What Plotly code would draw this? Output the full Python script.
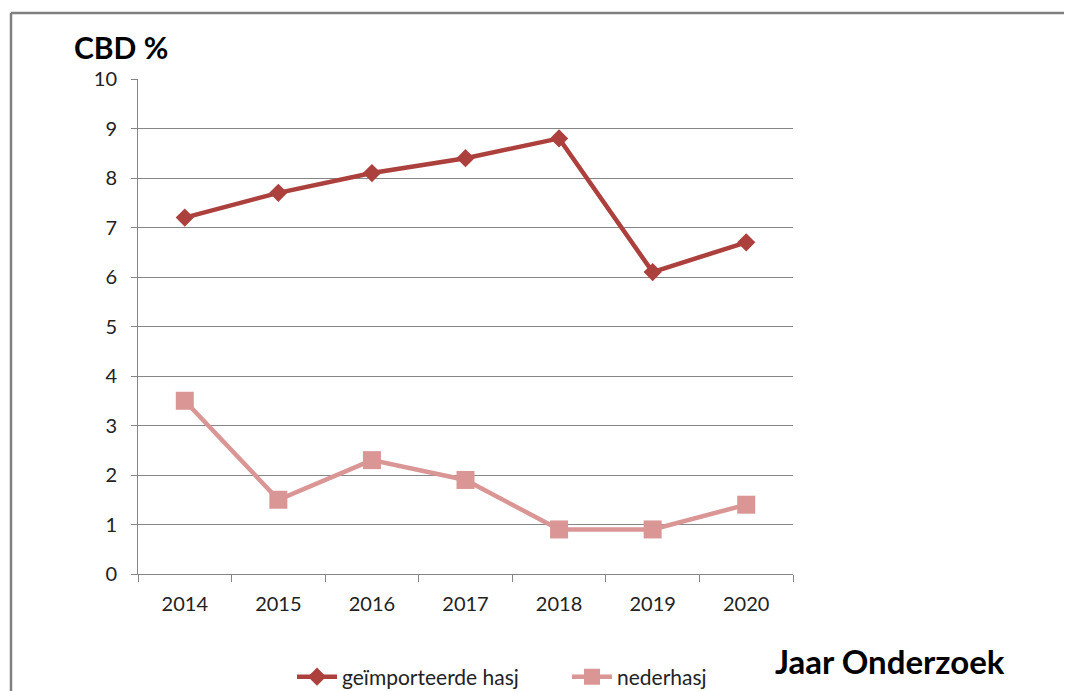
import plotly.graph_objects as go

years = ["2014", "2015", "2016", "2017", "2018", "2019", "2020"]
geimporteerde = [7.2, 7.7, 8.1, 8.4, 8.8, 6.1, 6.7]
nederhasj = [3.5, 1.5, 2.3, 1.9, 0.9, 0.9, 1.4]
y_ticks = list(range(0, 11))

OFF = 8  # page body margin
W, H = 1072 - OFF, 691 - OFF
L, R, T, B = 138 - OFF, 793 - OFF, 79 - OFF, 574 - OFF
pw, ph = R - L, B - T

def px_x(p):
    return (p - OFF - L) / pw

def px_y(p):
    return (B - (p - OFF)) / ph

fig = go.Figure()
fig.add_trace(go.Scatter(
    x=years, y=geimporteerde, name="geïmporteerde hasj", mode="lines+markers",
    line=dict(color="#AC403D", width=4.5),
    marker=dict(symbol="diamond", size=14, color="#AC403D"),
))
fig.add_trace(go.Scatter(
    x=years, y=nederhasj, name="nederhasj", mode="lines+markers",
    line=dict(color="#D99694", width=4.5),
    marker=dict(symbol="square", size=18, color="#D99694"),
))

font_family = "Lato, 'Liberation Sans', sans-serif"
border = dict(color="#808080", width=2.5)

fig.update_layout(
    width=W, height=H,
    margin=dict(l=L, r=W - R, t=T, b=H - B, autoexpand=False),
    paper_bgcolor="white", plot_bgcolor="white",
    font=dict(family=font_family, size=20, color="#222222"),
    showlegend=True,
    legend=dict(orientation="h", x=px_x(292), y=px_y(677), xanchor="left", yanchor="middle",
                font=dict(size=21, color="#222222"), itemwidth=40, bgcolor="rgba(0,0,0,0)",
                entrywidth=220, traceorder="normal"),
    xaxis=dict(type="category", range=[-0.5, 6.5], showgrid=False, showline=True,
               linecolor="#868686", linewidth=1, ticks="outside", tickson="boundaries",
               ticklen=7, tickcolor="#868686", tickfont=dict(size=20), zeroline=False,
               ticklabelstandoff=12, fixedrange=True),
    yaxis=dict(range=[0, 10], tickvals=y_ticks, showgrid=True, gridcolor="#868686",
               gridwidth=1, showline=True, linecolor="#868686", linewidth=1,
               ticks="outside", ticklen=6, tickcolor="#868686", tickfont=dict(size=20),
               zeroline=False, ticklabelstandoff=10, fixedrange=True),
    shapes=[
        dict(type="line", xref="paper", yref="paper",
             x0=px_x(11), x1=px_x(1200), y0=px_y(13), y1=px_y(13), line=border, layer="below"),
        dict(type="line", xref="paper", yref="paper",
             x0=px_x(11), x1=px_x(11), y0=px_y(13), y1=px_y(800), line=border, layer="below"),
    ],
    annotations=[
        dict(text="<b>CBD %</b>", xref="paper", yref="paper", x=px_x(72), y=px_y(47),
             xanchor="left", yanchor="middle", showarrow=False,
             font=dict(size=30, color="#000000", family=font_family)),
        dict(text="<b>Jaar Onderzoek</b>", xref="paper", yref="paper", x=px_x(773), y=px_y(661),
             xanchor="left", yanchor="middle", showarrow=False,
             font=dict(size=33, color="#000000", family=font_family)),
    ],
)

fig.write_html("out.html")
